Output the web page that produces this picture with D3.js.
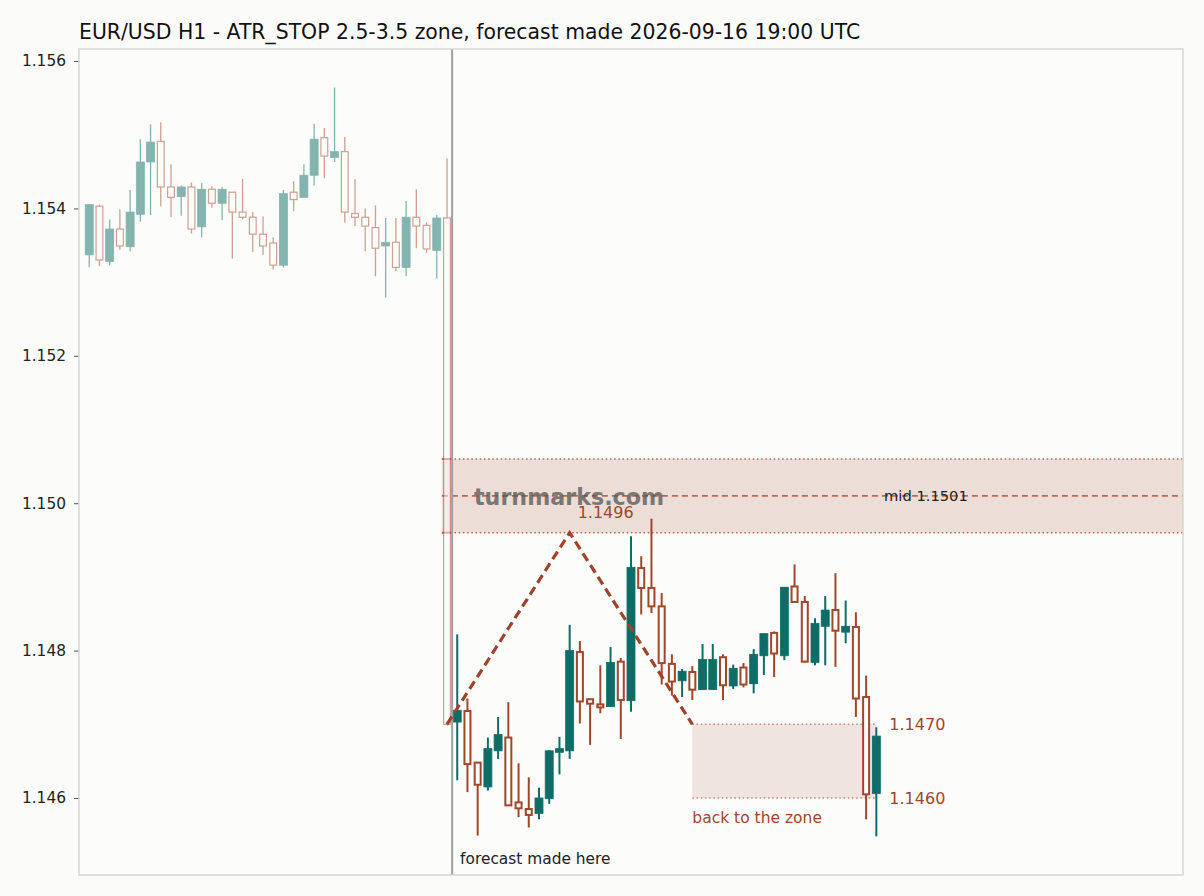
<!DOCTYPE html>
<html>
<head>
<meta charset="utf-8">
<script src="https://cdn.jsdelivr.net/npm/d3@7"></script>
<style>
  html, body { margin: 0; padding: 0; background: #fbfbf9; }
  svg { display: block; font-family: "DejaVu Sans", sans-serif; }
</style>
</head>
<body>
<svg id="chart" width="1204" height="896"></svg>
<script>
// ---- data ----
const histOpen  = [1.15337,1.15403,1.15328,1.15372,1.15348,1.15392,1.15463,1.15491,1.15429,1.15416,1.15429,1.15375,1.15426,1.15407,1.15422,1.15395,1.15388,1.15365,1.15353,1.15323,1.15422,1.15415,1.15445,1.15496,1.15469,1.15477,1.15393,1.15388,1.15374,1.15349,1.15354,1.15320,1.15388,1.15377,1.15343,1.15387];
const histHigh  = [1.15406,1.15405,1.15385,1.15399,1.15425,1.15494,1.15514,1.15517,1.15460,1.15431,1.15435,1.15434,1.15430,1.15429,1.15422,1.15440,1.15395,1.15389,1.15361,1.15425,1.15437,1.15460,1.15515,1.15509,1.15564,1.15497,1.15440,1.15400,1.15404,1.15387,1.15387,1.15410,1.15426,1.15381,1.15391,1.15468];
const histLow   = [1.15320,1.15322,1.15323,1.15344,1.15342,1.15382,1.15391,1.15403,1.15388,1.15390,1.15366,1.15361,1.15401,1.15384,1.15332,1.15385,1.15341,1.15337,1.15317,1.15320,1.15396,1.15415,1.15431,1.15441,1.15463,1.15381,1.15376,1.15342,1.15308,1.15279,1.15315,1.15308,1.15346,1.15340,1.15305,1.14698];
const histClose = [1.15405,1.15330,1.15372,1.15349,1.15395,1.15463,1.15490,1.15429,1.15415,1.15429,1.15372,1.15426,1.15407,1.15426,1.15395,1.15388,1.15365,1.15349,1.15323,1.15420,1.15412,1.15445,1.15494,1.15471,1.15477,1.15395,1.15388,1.15376,1.15346,1.15354,1.15320,1.15388,1.15376,1.15345,1.15387,1.14700];

const fcOpen  = [1.14703,1.14718,1.14648,1.14615,1.14664,1.14682,1.14594,1.14585,1.14579,1.14599,1.14662,1.14664,1.14798,1.14734,1.14727,1.14724,1.14785,1.14732,1.14912,1.14885,1.14860,1.14782,1.14759,1.14771,1.14747,1.14747,1.14791,1.14752,1.14777,1.14755,1.14793,1.14824,1.14793,1.14887,1.14866,1.14784,1.14833,1.14855,1.14825,1.14832,1.14737,1.14606];
const fcHigh  = [1.14822,1.14735,1.14648,1.14682,1.14710,1.14730,1.14647,1.14628,1.14614,1.14665,1.14683,1.14835,1.14813,1.14734,1.14780,1.14805,1.14790,1.14955,1.14928,1.14979,1.14878,1.14795,1.14775,1.14779,1.14809,1.14809,1.14795,1.14781,1.14783,1.14802,1.14823,1.14826,1.14886,1.14917,1.14874,1.14844,1.14874,1.14905,1.14868,1.14852,1.14766,1.14696];
const fcLow   = [1.14624,1.14608,1.14549,1.14610,1.14653,1.14590,1.14574,1.14560,1.14571,1.14592,1.14632,1.14653,1.14701,1.14672,1.14715,1.14724,1.14680,1.14717,1.14849,1.14851,1.14754,1.14739,1.14737,1.14733,1.14747,1.14747,1.14733,1.14748,1.14750,1.14742,1.14767,1.14764,1.14787,1.14866,1.14784,1.14780,1.14780,1.14778,1.14810,1.14710,1.14571,1.14548];
const fcClose = [1.14719,1.14646,1.14618,1.14667,1.14686,1.14590,1.14586,1.14577,1.14600,1.14664,1.14667,1.14800,1.14731,1.14728,1.14723,1.14784,1.14733,1.14913,1.14885,1.14860,1.14783,1.14758,1.14772,1.14747,1.14788,1.14788,1.14753,1.14776,1.14754,1.14795,1.14823,1.14796,1.14886,1.14866,1.14785,1.14837,1.14855,1.14827,1.14833,1.14735,1.14605,1.14684];

const yTicks = [1.146, 1.148, 1.150, 1.152, 1.154, 1.156];

const zoneLow = 1.1496, zoneHigh = 1.1506, zoneMid = 1.1501;
const targetLow = 1.1460, targetHigh = 1.1470;
const pathIdx = [35, 47, 59];
const pathPrice = [1.1470, 1.1496, 1.1470];
const forecastAt = 35.5;
const zoneStart = 34.5;
const targetStart = 59, targetEnd = 77;

const title = "EUR/USD H1 - ATR_STOP 2.5-3.5 zone, forecast made 2026-09-16 19:00 UTC";

// ---- layout ----
const L = 79, R = 1183, T = 49, B = 875;
const TEAL = "#0e6e67", BROWN = "#a0462a", BG = "#fcfcfa";

const svg = d3.select("#chart");
const x = d3.scaleLinear().domain([-1, 107]).range([L, R]);
const y = d3.scaleLinear().domain([1.144955, 1.156163]).range([B, T]);

svg.append("rect").attr("x", 0).attr("y", 0).attr("width", 1204).attr("height", 896).attr("fill", "#fbfbf9");
svg.append("rect").attr("x", L).attr("y", T).attr("width", R - L).attr("height", B - T).attr("fill", BG);

svg.append("clipPath").attr("id", "plotclip").append("rect")
  .attr("x", L).attr("y", T).attr("width", R - L).attr("height", B - T);
const plot = svg.append("g").attr("clip-path", "url(#plotclip)");

// entry zone
plot.append("rect").attr("x", x(zoneStart)).attr("y", y(zoneHigh))
  .attr("width", R - x(zoneStart)).attr("height", y(zoneLow) - y(zoneHigh))
  .attr("fill", "#ecddd6");
[zoneHigh, zoneLow].forEach(v => {
  plot.append("line").attr("x1", x(zoneStart)).attr("x2", R).attr("y1", y(v)).attr("y2", y(v))
    .attr("stroke", "#b86a52").attr("stroke-width", 1.6).attr("stroke-dasharray", "1.6,2.6");
  plot.append("line").attr("x1", x(zoneStart)).attr("x2", x(forecastAt)).attr("y1", y(v)).attr("y2", y(v))
    .attr("stroke", "#b86a52").attr("stroke-width", 2);
});
plot.append("line").attr("x1", x(zoneStart)).attr("x2", R).attr("y1", y(zoneMid)).attr("y2", y(zoneMid))
  .attr("stroke", "#b86a52").attr("stroke-width", 1.6).attr("stroke-dasharray", "6,4");

// target zone
plot.append("rect").attr("x", x(targetStart)).attr("y", y(targetHigh))
  .attr("width", x(targetEnd) - x(targetStart)).attr("height", y(targetLow) - y(targetHigh))
  .attr("fill", "#efe4df");
[targetHigh, targetLow].forEach(v => {
  plot.append("line").attr("x1", x(targetStart)).attr("x2", x(targetEnd)).attr("y1", y(v)).attr("y2", y(v))
    .attr("stroke", "#c08a78").attr("stroke-width", 1.6).attr("stroke-dasharray", "1.6,2.6");
});

// candles
function drawCandles(g, idx0, O, H, Lo, C, opts) {
  const data = O.map((o, i) => ({ i: idx0 + i, o, h: H[i], l: Lo[i], c: C[i] }));
  const w = 8;
  g.selectAll(null).data(data).enter().append("line")
    .attr("x1", d => x(d.i)).attr("x2", d => x(d.i))
    .attr("y1", d => y(d.h)).attr("y2", d => y(d.l))
    .attr("stroke", d => d.c >= d.o ? TEAL : BROWN)
    .attr("stroke-width", opts.wick);
  g.selectAll(null).data(data).enter().append("rect")
    .attr("x", d => x(d.i) - w / 2 + (d.c >= d.o ? 0 : opts.sw / 2))
    .attr("width", d => d.c >= d.o ? w : w - opts.sw)
    .attr("y", d => y(Math.max(d.o, d.c)))
    .attr("height", d => Math.max(1.5, Math.abs(y(d.o) - y(d.c))))
    .attr("fill", d => d.c >= d.o ? TEAL : BG)
    .attr("stroke", d => d.c >= d.o ? TEAL : BROWN)
    .attr("stroke-width", d => d.c >= d.o ? 0.8 : opts.sw);
}
const hg = plot.append("g").attr("opacity", 0.5);
drawCandles(hg, 0, histOpen, histHigh, histLow, histClose, { wick: 1.3, sw: 1.2 });
const fg = plot.append("g");
drawCandles(fg, 36, fcOpen, fcHigh, fcLow, fcClose, { wick: 2, sw: 2 });

// forecast marker line
plot.append("line").attr("x1", x(forecastAt)).attr("x2", x(forecastAt)).attr("y1", T).attr("y2", B)
  .attr("stroke", "#9ca19d").attr("stroke-width", 2);

// dashed path
plot.append("path")
  .attr("d", d3.line().x(d => x(d[0])).y(d => y(d[1]))(pathIdx.map((v, i) => [v, pathPrice[i]])))
  .attr("fill", "none").attr("stroke", "#a0412a").attr("stroke-width", 3.2)
  .attr("stroke-dasharray", "9,5");

// texts
svg.append("text").attr("x", 474).attr("y", y(zoneMid) + 1).attr("dy", "0.36em")
  .attr("font-size", 22.2).attr("font-weight", "bold").attr("fill", "#555").attr("opacity", 0.75)
  .text("turnmarks.com");
svg.append("text").attr("x", x(pathIdx[1]) + 8).attr("y", y(pathPrice[1]) - 20).attr("dy", "0.36em")
  .attr("font-size", 16).attr("fill", BROWN).text("1.1496");
svg.append("text").attr("x", 884).attr("y", y(zoneMid)).attr("dy", "0.36em")
  .attr("font-size", 14.7).attr("fill", "#222").text("mid 1.1501");
svg.append("text").attr("x", x(targetEnd) + 13).attr("y", y(targetHigh)).attr("dy", "0.36em")
  .attr("font-size", 16).attr("fill", BROWN).text("1.1470");
svg.append("text").attr("x", x(targetEnd) + 13).attr("y", y(targetLow)).attr("dy", "0.36em")
  .attr("font-size", 16).attr("fill", BROWN).text("1.1460");
svg.append("text").attr("x", x(targetStart)).attr("y", y(targetLow) + 19).attr("dy", "0.36em")
  .attr("font-size", 15.5).attr("fill", BROWN).text("back to the zone");
svg.append("text").attr("x", x(forecastAt) + 8).attr("y", 858).attr("dy", "0.36em")
  .attr("font-size", 15.4).attr("fill", "#222").text("forecast made here");

// axis
const ax = svg.append("g").attr("transform", `translate(${L},0)`)
  .call(d3.axisLeft(y).tickValues(yTicks).tickFormat(d3.format(".3f")).tickSize(5).tickPadding(8));
ax.select(".domain").remove();
ax.selectAll(".tick line").attr("stroke", "#555");
ax.selectAll(".tick text").attr("font-size", 15.4).attr("fill", "#222").attr("font-family", "DejaVu Sans, sans-serif");

// frame
svg.append("rect").attr("x", L).attr("y", T).attr("width", R - L).attr("height", B - T)
  .attr("fill", "none").attr("stroke", "#d3d7d3").attr("stroke-width", 1.5);

// title
svg.append("text").attr("x", L).attr("y", 32).attr("dy", "0.36em")
  .attr("font-size", 20.4).attr("fill", "#111").text(title);
</script>
</body>
</html>
